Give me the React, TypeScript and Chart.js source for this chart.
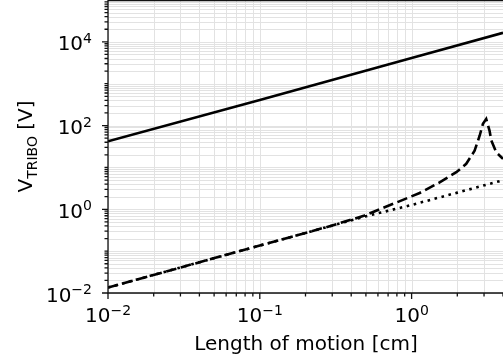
import React, { useEffect, useRef } from "react";
import { Chart, registerables } from "chart.js";

Chart.register(...registerables);

// Length of motion [cm] and V_TRIBO [V] for the three curves
const solidX = [0.01, 0.1, 1, 4];
const solidY = [42, 410, 4100, 16400];

const dashedX = [0.01, 0.1, 0.3, 0.49, 0.615, 0.877, 1.13, 1.53, 1.97, 2.29, 2.6, 2.81, 2.95, 3.1, 3.26, 3.35, 3.61, 3.9, 4];
const dashedY = [0.0135, 0.136, 0.41, 0.71, 1.0, 1.68, 2.45, 4.4, 7.7, 12.2, 25, 58, 110, 144, 76, 44, 23, 17.5, 16];

const dottedX = [0.01, 0.1, 0.5, 1, 2, 4];
const dottedY = [0.0135, 0.136, 0.68, 1.27, 2.5, 4.95];

// axis ranges and labelled decades
const xRange = [0.01, 4];
const yRange = [0.01, 100000];
const xTickExps = [-2, -1, 0];
const yTickExps = [-2, 0, 2, 4];

const xTitle = "Length of motion [cm]";
const yTitleMain = "V";
const yTitleSub = "TRIBO";
const yTitleTail = " [V]";

const FONT = '"DejaVu Sans", sans-serif';
const MAIN_PX = 20;
const SUP_PX = 14;

const pts = (xs: number[], ys: number[]) => xs.map((x, i) => ({ x, y: ys[i] }));

// draws "10" with a raised exponent; align: 'center' | 'right'
function drawPow(ctx: CanvasRenderingContext2D, exp: number, x: number, baseline: number, align: "center" | "right") {
  const expText = exp < 0 ? "\u2212" + Math.abs(exp) : String(exp);
  ctx.font = `${MAIN_PX}px ${FONT}`;
  const wMain = ctx.measureText("10").width;
  ctx.font = `${SUP_PX}px ${FONT}`;
  const wSup = ctx.measureText(expText).width;
  const total = wMain + wSup;
  const left = align === "center" ? x - total / 2 : x - total;
  ctx.textAlign = "left";
  ctx.textBaseline = "alphabetic";
  ctx.fillStyle = "#000";
  ctx.font = `${MAIN_PX}px ${FONT}`;
  ctx.fillText("10", left, baseline);
  ctx.font = `${SUP_PX}px ${FONT}`;
  ctx.fillText(expText, left + wMain, baseline - 7.5);
}

const logAxesPlugin = {
  id: "logAxes",
  beforeDatasetsDraw(chart: any) {
    const { ctx, chartArea: a, scales } = chart;
    const xs = scales.x;
    const ys = scales.y;
    ctx.save();
    ctx.strokeStyle = "#e2e2e2";
    ctx.lineWidth = 1;
    ctx.beginPath();
    for (let e = -2; e <= 0; e++) {
      for (let m = 1; m <= 9; m++) {
        const v = m * Math.pow(10, e);
        if (v > xs.max) break;
        const px = Math.round(xs.getPixelForValue(v)) + 0.5;
        ctx.moveTo(px, a.top);
        ctx.lineTo(px, a.bottom);
      }
    }
    for (let e = -2; e <= 4; e++) {
      for (let m = 1; m <= 9; m++) {
        const v = m * Math.pow(10, e);
        const py = Math.round(ys.getPixelForValue(v)) + 0.5;
        ctx.moveTo(a.left, py);
        ctx.lineTo(a.right, py);
      }
    }
    ctx.stroke();
    ctx.restore();
  },
  afterDraw(chart: any) {
    const { ctx, chartArea: a, scales } = chart;
    const xs = scales.x;
    const ys = scales.y;
    ctx.save();
    ctx.strokeStyle = "#111";
    ctx.lineWidth = 1.3;

    // spines
    ctx.beginPath();
    ctx.moveTo(a.left, a.top + 0.5);
    ctx.lineTo(a.right, a.top + 0.5);
    ctx.moveTo(a.left, a.top);
    ctx.lineTo(a.left, a.bottom);
    ctx.lineTo(a.right, a.bottom);
    ctx.stroke();

    // x ticks
    ctx.beginPath();
    for (let e = -2; e <= 0; e++) {
      for (let m = 1; m <= 9; m++) {
        const v = m * Math.pow(10, e);
        if (v > xs.max) break;
        const px = xs.getPixelForValue(v);
        const len = m === 1 ? 6 : 3.5;
        ctx.moveTo(px, a.bottom);
        ctx.lineTo(px, a.bottom + len);
      }
    }
    // y ticks
    for (let e = -2; e <= 4; e++) {
      for (let m = 1; m <= 9; m++) {
        const v = m * Math.pow(10, e);
        const py = ys.getPixelForValue(v);
        const len = m === 1 && e % 2 === 0 ? 6 : 3.5;
        ctx.moveTo(a.left, py);
        ctx.lineTo(a.left - len, py);
      }
    }
    ctx.stroke();

    // tick labels
    xTickExps.forEach((e) => {
      drawPow(ctx, e, xs.getPixelForValue(Math.pow(10, e)), a.bottom + 29, "center");
    });
    yTickExps.forEach((e) => {
      drawPow(ctx, e, 92, ys.getPixelForValue(Math.pow(10, e)) + 8.5, "right");
    });

    // x title
    ctx.font = `${MAIN_PX}px ${FONT}`;
    ctx.textAlign = "center";
    ctx.textBaseline = "alphabetic";
    ctx.fillStyle = "#000";
    ctx.fillText(xTitle, (a.left + a.right + 1) / 2, 350);

    // y title, rotated, with subscript
    ctx.font = `${MAIN_PX}px ${FONT}`;
    const w1 = ctx.measureText(yTitleMain).width;
    const w3 = ctx.measureText(yTitleTail).width;
    ctx.font = `${SUP_PX}px ${FONT}`;
    const w2 = ctx.measureText(yTitleSub).width;
    const total = w1 + w2 + w3;
    ctx.translate(32, (a.top + a.bottom) / 2);
    ctx.rotate(-Math.PI / 2);
    ctx.textAlign = "left";
    let cx = -total / 2;
    ctx.font = `${MAIN_PX}px ${FONT}`;
    ctx.fillText(yTitleMain, cx, 0);
    cx += w1;
    ctx.font = `${SUP_PX}px ${FONT}`;
    ctx.fillText(yTitleSub, cx, 4.5);
    cx += w2;
    ctx.font = `${MAIN_PX}px ${FONT}`;
    ctx.fillText(yTitleTail, cx, 0);
    ctx.restore();
  },
};

export default function App() {
  const canvasRef = useRef<HTMLCanvasElement | null>(null);

  useEffect(() => {
    const canvas = canvasRef.current;
    if (!canvas) return;
    const lw = 2.6;
    const chart = new Chart(canvas, {
      type: "line",
      data: {
        datasets: [
          {
            data: pts(solidX, solidY),
            borderColor: "#000",
            borderWidth: lw,
            pointRadius: 0,
            tension: 0,
            borderCapStyle: "butt",
          },
          {
            data: pts(dashedX, dashedY),
            borderColor: "#000",
            borderWidth: lw,
            pointRadius: 0,
            tension: 0,
            borderDash: [10.5, 4.6],
            borderCapStyle: "butt",
          },
          {
            data: pts(dottedX, dottedY),
            borderColor: "#000",
            borderWidth: lw,
            pointRadius: 0,
            tension: 0,
            borderDash: [2.6, 4.6],
            borderCapStyle: "butt",
          },
        ],
      },
      options: {
        responsive: false,
        animation: false,
        devicePixelRatio: 1,
        layout: { padding: { left: 108, right: 0, top: 0, bottom: 67 } },
        plugins: { legend: { display: false }, tooltip: { enabled: false } },
        scales: {
          x: { type: "logarithmic", min: xRange[0], max: xRange[1], display: false },
          y: { type: "logarithmic", min: yRange[0], max: yRange[1], display: false },
        },
      },
      plugins: [logAxesPlugin],
    });
    return () => chart.destroy();
  }, []);

  return (
    <div style={{ position: "absolute", left: 0, top: 0, width: 503, height: 360, background: "#fff" }}>
      <canvas ref={canvasRef} width={503} height={360} style={{ display: "block" }} />
    </div>
  );
}
